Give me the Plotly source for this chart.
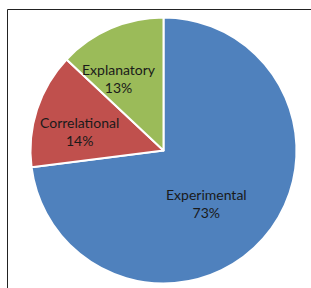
import math
import plotly.graph_objects as go

labels = ["Experimental", "Correlational", "Explanatory"]
values = [73, 14, 13]
colors = ["#4F81BD", "#C0504D", "#9BBB59"]

W, H = 311, 288
cx, cy, r = 163.5, 150.5, 133
# label placement (style): fraction of radius and angular nudge from slice bisector
label_radius = [0.513, 0.65, 0.641]
label_nudge = [9.0, -5.6, -8.4]

fig = go.Figure(go.Pie(
    labels=labels, values=values, sort=False, direction="clockwise", rotation=0,
    marker=dict(colors=colors, line=dict(color="white", width=2)),
    textinfo="none", hoverinfo="skip",
    domain=dict(x=[(cx - r) / W, (cx + r) / W], y=[(H - cy - r) / H, (H - cy + r) / H]),
))

total = sum(values)
cum = 0
annotations = []
for lab, v, fr, nd in zip(labels, values, label_radius, label_nudge):
    mid = (cum + v / 2) / total * 360 + nd
    cum += v
    a = math.radians(mid)
    px = cx + fr * r * math.sin(a)
    py = cy - fr * r * math.cos(a)
    pct = round(v / total * 100)
    annotations.append(dict(
        x=px / W, y=(H - py) / H, xref="paper", yref="paper",
        text=f"{lab}<br>{pct}%", showarrow=False, xanchor="center", yanchor="middle",
        font=dict(family="Lato, Open Sans, sans-serif", size=14, color="#1a1a1a"),
    ))

fig.update_layout(
    width=W, height=H, margin=dict(l=0, r=0, t=0, b=0),
    showlegend=False, paper_bgcolor="white",
    annotations=annotations,
    shapes=[dict(type="rect", xref="paper", yref="paper",
                 x0=7.5 / W, x1=1.2, y0=-0.2, y1=(H - 9.5) / H,
                 line=dict(color="#222", width=1), layer="below")],
)
fig.write_html("out.html", config=dict(displayModeBar=False),
               post_script="document.body.style.margin='0';document.body.style.overflow='hidden';")
